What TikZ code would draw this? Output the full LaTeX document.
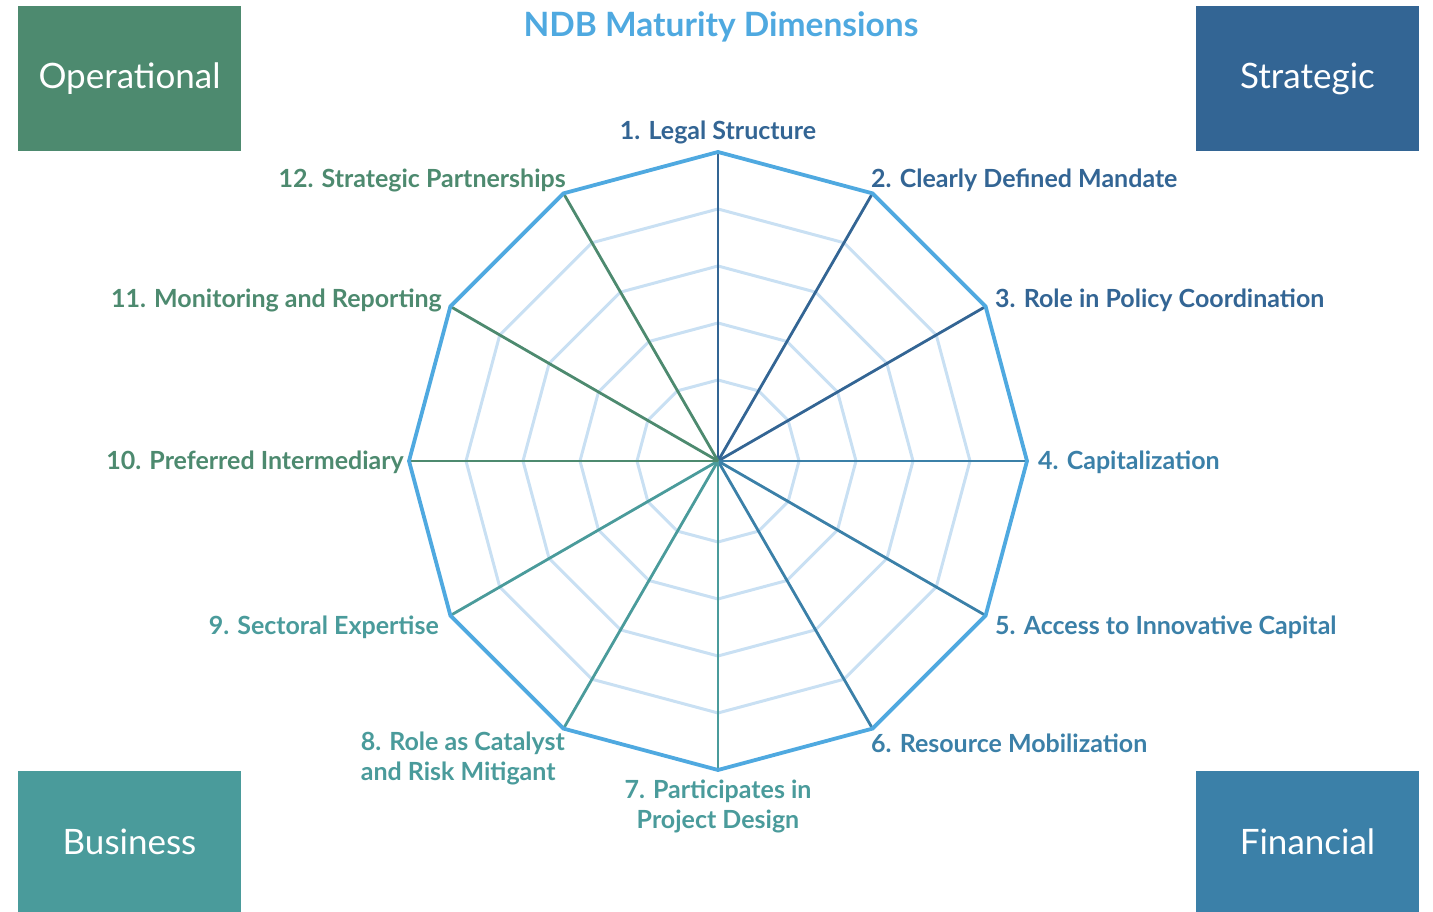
\documentclass[tikz,border=0pt]{standalone}
\usepackage{fontspec}
\setmainfont{Lato}
\definecolor{strat}{HTML}{336594}
\definecolor{fin}{HTML}{3B80A8}
\definecolor{bus}{HTML}{4A9B9B}
\definecolor{oper}{HTML}{4D8A6F}
\definecolor{rim}{HTML}{4FA9E0}
\definecolor{ringc}{HTML}{C9E0F3}
\begin{document}
\begin{tikzpicture}[x=1pt,y=1pt,
  lbl/.style={font=\fontsize{25}{30}\selectfont\bfseries, inner sep=0pt},
  catbox/.style={minimum width=223pt, inner sep=0pt, text=white, font=\fontsize{35}{40}\selectfont},
  spoke/.style={line width=2.8pt},
  rimline/.style={draw=rim, line width=3.8pt, line join=miter},
  ringline/.style={draw=ringc, line width=3pt, line join=miter}]
\useasboundingbox (0,0) rectangle (1433,912);
% category boxes
\node[catbox, fill=oper, minimum height=145pt] (op) at (129.5,833.5) {Operational};
\node[catbox, fill=strat, minimum height=145pt] (st) at (1307.5,833.5) {Strategic};
\node[catbox, fill=bus, minimum height=141pt] (bu) at (129.5,70.5) {Business};
\node[catbox, fill=fin, minimum height=141pt] (fi) at (1307.5,70.5) {Financial};
% title
\node[font=\fontsize{33.5}{38}\selectfont\bfseries, text=rim, inner sep=0pt] (title) at (721,885) {NDB Maturity Dimensions};
% geometry
\coordinate (c) at (718,451);
\foreach \i in {1,...,12}{
  \pgfmathsetmacro\a{90-30*(\i-1)}
  \path (c) ++(\a:309) coordinate (v\i);
}
\begin{scope}[shift={(718,451)}]
\foreach \r in {81,138,195,252}{
  \draw[ringline] (90:\r) \foreach \a in {60,30,...,-240}{ -- (\a:\r)} -- cycle;
}
\end{scope}
% spokes
\foreach \i/\col in {1/strat,2/strat,3/strat,4/fin,5/fin,6/fin,7/bus,8/bus,9/bus,10/oper,11/oper,12/oper}{
  \draw[spoke, draw=\col] (c) -- (v\i);
}
% rim
\draw[rimline] (v1) -- (v2) -- (v3) -- (v4) -- (v5) -- (v6) -- (v7) -- (v8) -- (v9) -- (v10) -- (v11) -- (v12) -- cycle;
% labels
\node[lbl, text=strat] (l1) at (718,780) {1. Legal Structure};
\node[lbl, text=strat, anchor=west] (l2) at (871,732) {2. Clearly Defined Mandate};
\node[lbl, text=strat, anchor=west] (l3) at (995,612) {3. Role in Policy Coordination};
\node[lbl, text=fin, anchor=west] (l4) at (1038,450) {4. Capitalization};
\node[lbl, text=fin, anchor=west] (l5) at (995,285) {5. Access to Innovative Capital};
\node[lbl, text=fin, anchor=west] (l6) at (871,169) {6. Resource Mobilization};
\node[lbl, text=bus, align=center] (l7) at (718,106) {7. Participates in\\Project Design};
\node[lbl, text=bus, align=left, anchor=east] (l8) at (565,154) {8. Role as Catalyst\\and Risk Mitigant};
\node[lbl, text=bus, anchor=east] (l9) at (439,285) {9. Sectoral Expertise};
\node[lbl, text=oper, anchor=east] (l10) at (404,450) {10. Preferred Intermediary};
\node[lbl, text=oper, anchor=east] (l11) at (442,612) {11. Monitoring and Reporting};
\node[lbl, text=oper, anchor=east] (l12) at (566,732) {12. Strategic Partnerships};
\end{tikzpicture}
\end{document}
